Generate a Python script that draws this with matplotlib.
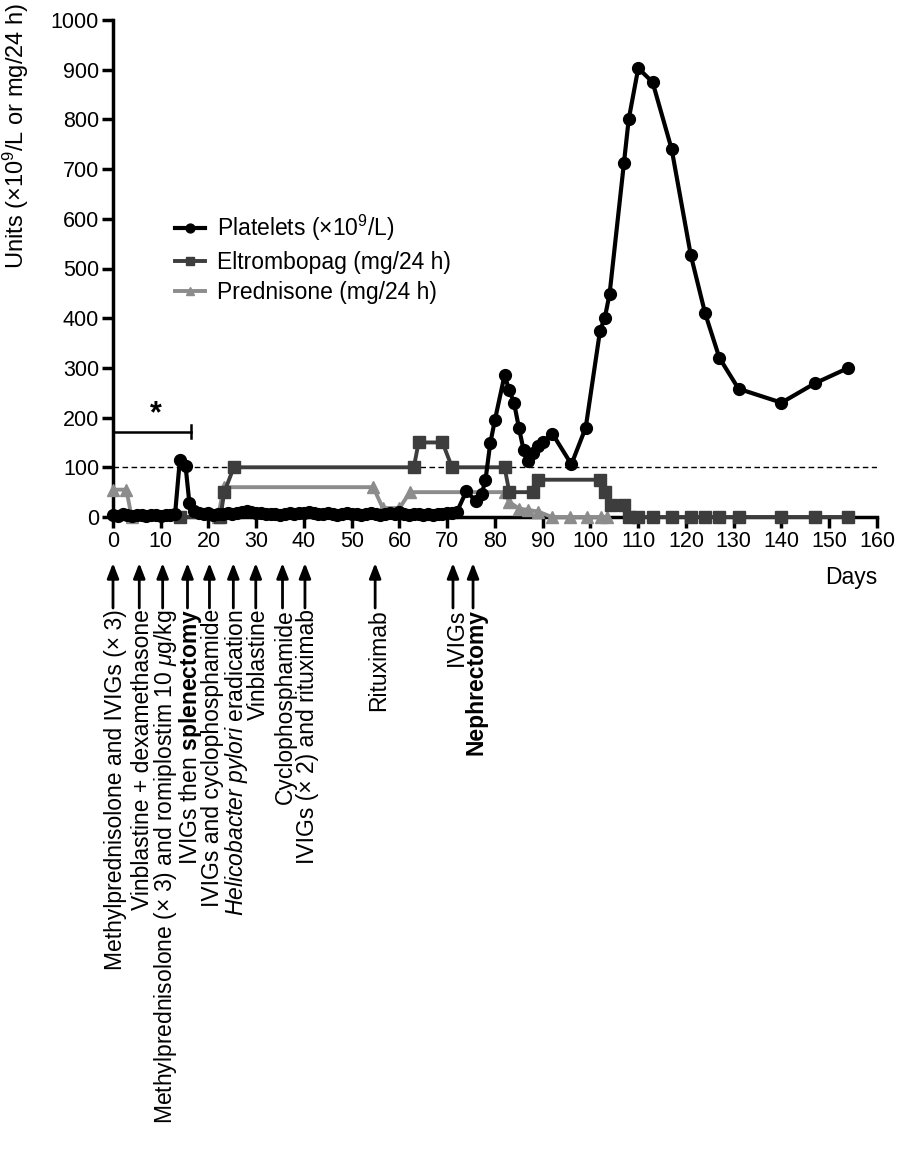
import matplotlib
matplotlib.use("Agg")
import matplotlib.pyplot as plt

plt.rcParams['font.family'] = ['Liberation Sans', 'DejaVu Sans']
plt.rcParams['mathtext.fontset'] = 'custom'
plt.rcParams['mathtext.rm'] = 'Liberation Sans'
plt.rcParams['mathtext.it'] = 'Liberation Sans:italic'
plt.rcParams['mathtext.bf'] = 'Liberation Sans:bold'
plt.rcParams['mathtext.default'] = 'regular'

# platelets (x10^9/L)
plt_days = [0, 1, 2, 3, 4, 5, 6, 7, 8, 9, 10, 11, 12, 13,
            14, 15.2, 16, 17, 18, 19, 20, 21, 22, 23, 24, 25, 26, 27, 28, 29,
            30, 31, 32, 33, 34, 35, 36, 37, 38, 39, 40, 41, 42, 43, 44, 45,
            46, 47, 48, 49, 50, 51, 52, 53, 54, 55, 56, 57, 58, 59, 60, 61,
            62, 63, 64, 65, 66, 67, 68, 69, 70, 71, 72,
            74, 76, 77.2, 78, 79, 80, 82, 83, 84, 85, 86, 87, 88, 89, 90,
            92, 96, 99, 102, 103, 104, 107, 108, 110, 113, 117, 121, 124,
            127, 131, 140, 147, 154]
plt_vals = [5, 3, 6, 4, 3, 5, 4, 3, 4, 5, 3, 4, 5, 6,
            115, 102, 28, 12, 8, 6, 9, 5, 7, 6, 8, 7, 9, 10, 12, 11,
            9, 8, 7, 6, 7, 5, 6, 8, 7, 9, 8, 10, 9, 7, 6, 8,
            7, 5, 6, 8, 7, 6, 5, 6, 8, 7, 5, 6, 8, 7, 10, 6,
            5, 7, 6, 5, 6, 5, 7, 6, 8, 9, 10,
            52, 32, 46, 74, 148, 196, 285, 255, 229, 180, 134, 113, 128, 142, 151,
            168, 106, 180, 375, 401, 449, 712, 800, 903, 875, 740, 527, 410,
            320, 258, 230, 269, 300]

# eltrombopag (mg/24 h)
elt_days = [14, 22.5, 23.3, 25.3, 63, 64, 69, 71, 82, 83, 88, 89, 102, 103,
            104.2, 107, 108, 110, 113, 117, 121, 124, 127, 131, 140, 147, 154]
elt_vals = [0, 0, 50, 100, 100, 150, 150, 100, 100, 50, 50, 75, 75, 50,
            25, 25, 0, 0, 0, 0, 0, 0, 0, 0, 0, 0, 0]

# prednisone (mg/24 h)
pred_days = [0, 2.8, 3.9, 22, 23.2, 54.5, 56.5, 60, 62.2, 82, 83, 85, 87, 89,
             91.9, 95.7, 99.3, 102.2, 103.4]
pred_vals = [55, 55, 0, 0, 60, 60, 18, 18, 50, 50, 30, 17, 14, 11,
             0, 0, 0, 0, 0]

# treatment events
event_days = [0, 5.5, 10.4, 15.6, 20.2, 25.2, 29.9, 35.5, 40.2, 54.9, 71.2, 75.4]
event_labels = [
    "Methylprednisolone and IVIGs (\u00d7 3)",
    "Vinblastine + dexamethasone",
    "Methylprednisolone (\u00d7 3) and romiplostim 10 $\\mathit{\\mu}$g/kg",
    "IVIGs then $\\mathbf{splenectomy}$",
    "IVIGs and cyclophosphamide",
    "$\\mathit{Helicobacter\\ pylori}$ eradication",
    "Vinblastine",
    "Cyclophosphamide",
    "IVIGs (\u00d7 2) and rituximab",
    "Rituximab",
    "IVIGs",
    "Nephrectomy",
]
event_bold = [False] * 11 + [True]

W, H = 899, 1157
fig = plt.figure(figsize=(W / 100, H / 100), dpi=100)
ax = fig.add_axes([113 / W, 1 - 517 / H, (877 - 113) / W, (517 - 20) / H])

fs = 16.5
ax.axhline(100, color='black', lw=1, ls=(0, (4, 2.5)), zorder=1)

ax.plot(pred_days, pred_vals, color='#8c8c8c', lw=2.8, marker='^', ms=8,
        clip_on=False, zorder=3, label='Prednisone (mg/24 h)')
ax.plot(elt_days, elt_vals, color='#3d3d3d', lw=2.8, marker='s', ms=8,
        clip_on=False, zorder=4, label='Eltrombopag (mg/24 h)')
ax.plot(plt_days, plt_vals, color='black', lw=3, marker='o', ms=8.5,
        clip_on=False, zorder=5, label='Platelets (\u00d710$^{9}$/L)')

# bracket with asterisk
ax.plot([0, 16.3], [172, 172], color='black', lw=1.8, clip_on=False)
ax.plot([16.3, 16.3], [158, 186], color='black', lw=1.8, clip_on=False)
ax.text(9, 176, '*', fontsize=22, fontweight='bold', ha='center', va='bottom')

ax.set_xlim(0, 160)
ax.set_ylim(0, 1000)
ax.set_xticks(range(0, 161, 10))
ax.set_yticks(range(0, 1001, 100))
for s in ['top', 'right']:
    ax.spines[s].set_visible(False)
for s in ['left', 'bottom']:
    ax.spines[s].set_linewidth(2.5)
ax.tick_params(width=2.5, length=8, labelsize=15.5, pad=2)
ax.text(1.0, -0.122, 'Days', transform=ax.transAxes, ha='right', va='center',
        fontsize=fs)
fig.text(16 / W, 1 - 3 / H, 'Units (\u00d710$^{9}$/L or mg/24 h)', rotation=90,
         ha='center', va='top', fontsize=17)

h, l = ax.get_legend_handles_labels()
order = [2, 1, 0]
ax.legend([h[i] for i in order], [l[i] for i in order], loc='upper left',
          bbox_to_anchor=(175 / W, 1 - 213 / H), bbox_transform=fig.transFigure,
          frameon=False, fontsize=fs, handlelength=1.3, handletextpad=0.55,
          labelspacing=0.32, markerscale=0.75, borderpad=0, borderaxespad=0)

# event arrows and labels
for d, lab, b in zip(event_days, event_labels, event_bold):
    ax.annotate('', xy=(d, 1 - 563 / H), xytext=(d, 1 - 608 / H),
                xycoords=('data', 'figure fraction'),
                textcoords=('data', 'figure fraction'),
                arrowprops=dict(arrowstyle='-|>,head_length=0.9,head_width=0.35',
                                color='black', lw=2, shrinkA=0, shrinkB=0))
    ax.annotate(lab, xy=(d, 1 - 609 / H), xycoords=('data', 'figure fraction'),
                xytext=(3, 0), textcoords='offset pixels',
                rotation=90, ha='center', va='top', fontsize=fs,
                fontweight='bold' if b else 'normal', annotation_clip=False)

fig.savefig('out.png', dpi=100)
